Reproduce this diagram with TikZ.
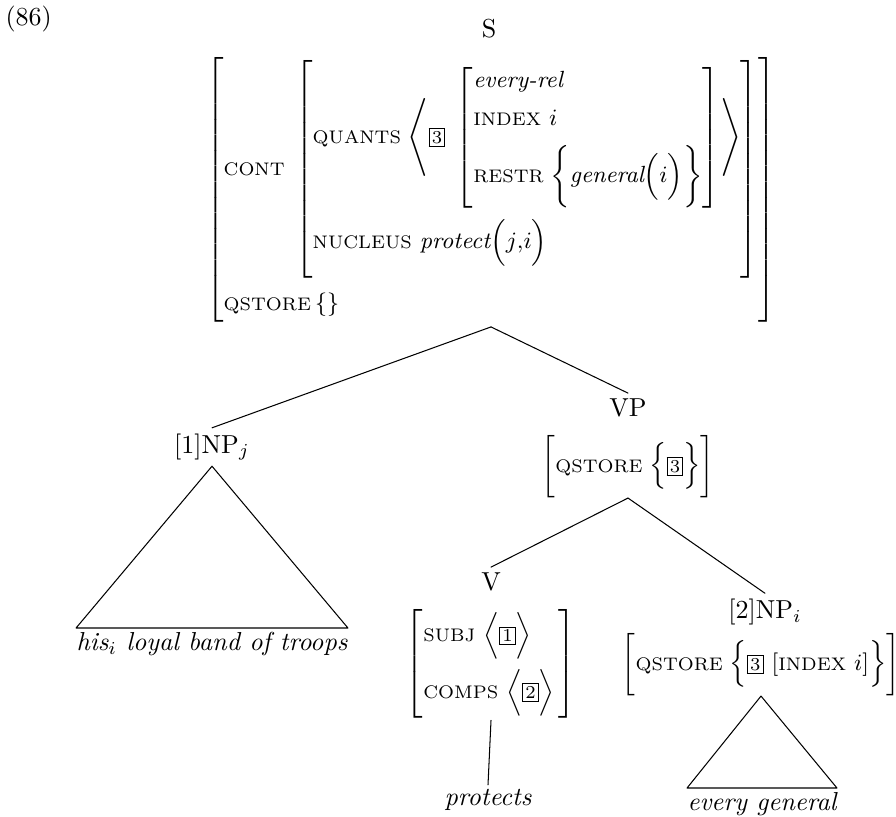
\documentclass[tikz,border=0pt]{standalone}
\usetikzlibrary{positioning, calc}
\newcommand\feat[1]{\mbox{\scriptsize #1}}
\newcommand\tagbox[1]{{\setlength\fboxsep{0.8pt}\fbox{\scriptsize #1}}}
\newcommand\pad[1]{\noalign{\vskip #1}}
\tikzset{
  every picture/.style={line cap=round, line join=round},
  cat/.style={inner sep=2pt},
  avm/.style={inner sep=0pt, font=\small},
  leaf/.style={font=\itshape, inner xsep=0pt, inner ysep=1.5pt},
  branch/.style={thin},
}

\begin{document}
\begin{tikzpicture}[x=0.3846pt, y=-0.3846pt]
  \useasboundingbox (0,0) rectangle (896,816);
  \node[anchor=north west, inner sep=0pt] (ex) at (5,5) {(86)};
  % root
  \node[cat] (s) at (489,29) {S};
  \node[avm, anchor=north] (savm) at (491,53) {$\left[\begin{array}{@{}l@{}}
    \pad{2pt}
    \feat{CONT}\;\left[\begin{array}{@{}l@{}}
      \pad{3.4pt}
      \feat{QUANTS}\;\Bigg\langle\tagbox{3}\;\left[\begin{array}{@{}l@{}}
        \textit{every-rel}\\[3.6pt]
        \feat{INDEX}\ i\\[4.1pt]
        \feat{RESTR}\;\bigg\{\textit{general}\Big(i\Big)\bigg\}
      \end{array}\right]\!\Bigg\rangle\\
      \pad{4.2pt}
      \feat{NUCLEUS}\ \textit{protect}\Big(j{,}i\Big)\\
      \pad{5.3pt}
    \end{array}\right]\\
    \pad{3.8pt}
    \feat{QSTORE}\,\{\}\\
    \pad{3pt}
  \end{array}\right]$};
  % daughters of S
  \node[cat] (np1) at (212,447) {[1]NP$_j$};
  \node[leaf, anchor=north] (leaf1) at (212,628) {his$_i$ loyal band of troops};
  \node[cat] (vp) at (628,408) {VP};
  \node[avm] (vpavm) at (628,466) {$\bigg[\feat{QSTORE}\;\Big\{\tagbox{3}\Big\}\bigg]$};
  % daughters of VP
  \node[cat] (v) at (491,582) {V};
  \node[avm] (vavm) at (491,664) {$\left[\begin{array}{@{}l@{}}
    \pad{1.5pt}
    \feat{SUBJ}\ \Big\langle\tagbox{1}\Big\rangle\\
    \pad{3.5pt}
    \feat{COMPS}\ \Big\langle\tagbox{2}\Big\rangle\,\\
    \pad{1.5pt}
  \end{array}\right]$};
  \node[leaf] (leafv) at (488,800) {protects};
  \node[cat] (np2) at (765,612) {[2]NP$_i$};
  \node[avm] (np2avm) at (761,664) {$\bigg[\feat{QSTORE}\;\Big\{\tagbox{3}\ [\feat{INDEX}\ i]\Big\}\bigg]$};
  \node[leaf, anchor=north] (leaf2) at (762,788) {every general};
  % branches
  \draw[branch] (savm.south) -- (np1.north);
  \draw[branch] (savm.south) -- (vp.north);
  \draw[branch] (vpavm.south) -- (v.north);
  \draw[branch] (vpavm.south) -- (np2.north);
  \draw[branch] (vavm.south) -- (leafv.north);
  % roofs
  \draw[branch] (np1.south) -- (leaf1.north west) -- (leaf1.north east) -- cycle;
  \draw[branch] (np2avm.south) -- (leaf2.north west) -- (leaf2.north east) -- cycle;
\end{tikzpicture}
\end{document}
